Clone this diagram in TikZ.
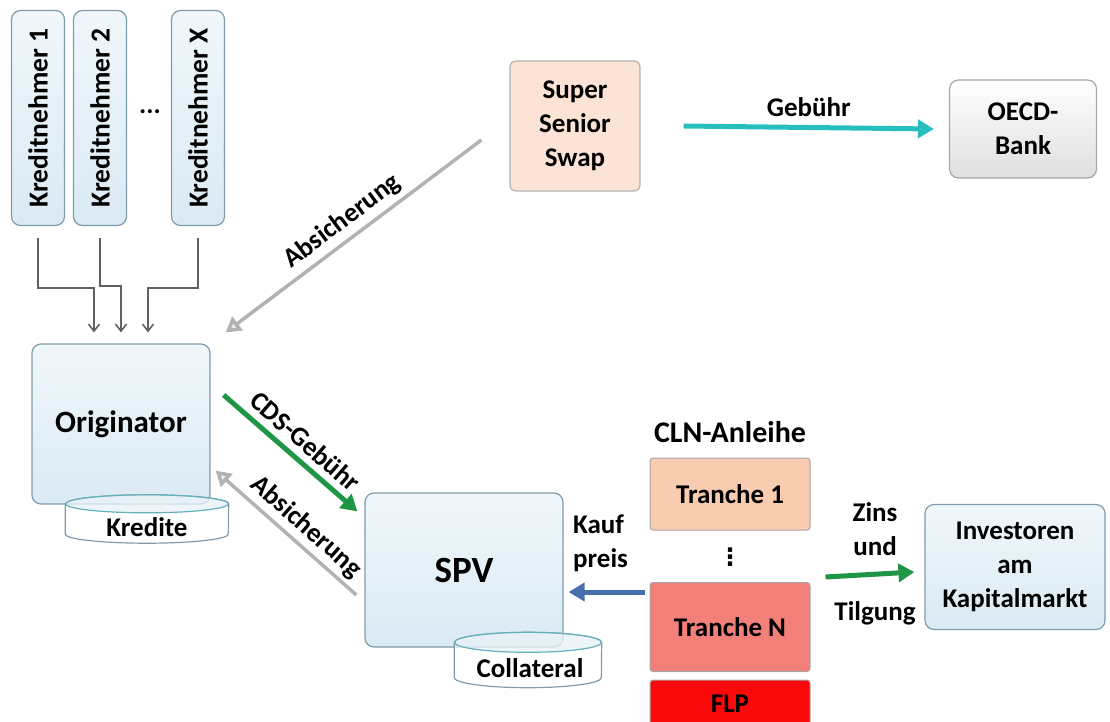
\documentclass[tikz,border=0pt]{standalone}
\usepackage{fontspec}
\setmainfont{Carlito}
\newfontfamily\symfont{DejaVu Sans}
\usetikzlibrary{arrows.meta, positioning, shapes.geometric}
\definecolor{boxtop}{RGB}{240,247,251}
\definecolor{boxbot}{RGB}{218,234,243}
\definecolor{boxline}{RGB}{128,156,172}
\definecolor{swapfill}{RGB}{251,228,213}
\definecolor{trone}{RGB}{248,204,176}
\definecolor{trn}{RGB}{243,128,120}
\definecolor{trflp}{RGB}{250,10,10}
\definecolor{feegreen}{RGB}{30,150,70}
\definecolor{feecyan}{RGB}{40,190,190}
\definecolor{payblue}{RGB}{70,110,170}
\tikzset{%
  txt/.style={font=\bfseries\fontsize{27}{34}\selectfont, align=center, inner sep=0pt},
  base/.style={txt, draw=boxline, line width=1.2pt, rounded corners=9pt},
  party/.style={base, top color=boxtop, bottom color=boxbot},
  lender/.style={party, rotate=90, minimum width=215pt, minimum height=53pt, font=\bfseries\fontsize{27.5}{30}\selectfont},
  swapbox/.style={base, fill=swapfill, draw=gray!60, rounded corners=6pt},
  bankbox/.style={base, top color=white, bottom color=gray!25, draw=gray!70},
  tranche/.style={txt, draw=black!35, line width=1pt, rounded corners=3pt, minimum width=160pt},
  disk/.style={inner sep=0pt},
  diskbody/.style={draw=boxline, line width=1.2pt, fill=white, fill opacity=0.6},
  disklid/.style={draw=boxline!80!cyan, line width=1.2pt, fill=boxbot, fill opacity=0.45},
  feed/.style={draw=gray!75!black, line width=1.6pt, -{Straight Barb[length=7pt,width=11pt]}},
  fee/.style={draw=feegreen, line width=5pt, -{Triangle[length=16pt,width=18pt]}},
  hedge/.style={draw=gray!60, line width=3.5pt, -{Triangle[length=15pt,width=17pt,fill=gray!15]}},
  swapfee/.style={draw=feecyan, line width=5pt, -{Triangle[length=16pt,width=18pt]}},
  pay/.style={draw=payblue, line width=5pt, -{Triangle[length=16pt,width=18pt]}},
  lbl/.style={txt, fill=none}
}
\begin{document}
\begin{tikzpicture}[x=1pt, y=-1pt]
  \useasboundingbox (0,0) rectangle (1110,722);

  \node[lender] (k1) at (38,118) {Kreditnehmer 1};
  \node[lender] (k2) at (100,118) {Kreditnehmer 2};
  \node[lender] (kx) at (198,118) {Kreditnehmer X};
  \node[txt] (kdots) at (150,112) {...};

  \node[party, minimum width=178pt, minimum height=160pt, font=\bfseries\fontsize{31}{36}\selectfont] (orig) at (121,424) {Originator};
  \node[disk, minimum width=163pt, minimum height=48pt] (kredite) at (147,519) {};
  \draw[diskbody] ([yshift=-9pt]kredite.north west) -- ([yshift=9pt]kredite.south west)
    arc[start angle=180, end angle=360, x radius=81.5pt, y radius=9pt]
    -- ([yshift=-9pt]kredite.north east)
    arc[start angle=0, end angle=180, x radius=81.5pt, y radius=9pt] -- cycle;
  \draw[disklid] ([yshift=-9pt]kredite.north) ellipse[x radius=81.5pt, y radius=9pt];
  \node[txt] (kreditetxt) at (147,527) {Kredite};

  \node[party, minimum width=198pt, minimum height=154pt, font=\bfseries\fontsize{37}{42}\selectfont] (spv) at (464,570) {SPV};
  \node[disk, minimum width=147pt, minimum height=55pt] (coll) at (528,660) {};
  \draw[diskbody] ([yshift=-10pt]coll.north west) -- ([yshift=10pt]coll.south west)
    arc[start angle=180, end angle=360, x radius=73.5pt, y radius=10pt]
    -- ([yshift=-10pt]coll.north east)
    arc[start angle=0, end angle=180, x radius=73.5pt, y radius=10pt] -- cycle;
  \draw[disklid] ([yshift=-10pt]coll.north) ellipse[x radius=73.5pt, y radius=10pt];
  \node[txt] (colltxt) at (530,668) {Collateral};

  \node[swapbox, minimum width=130pt, minimum height=130pt] (sss) at (575,126) {Super\\Senior\\Swap};
  \node[bankbox, minimum width=147pt, minimum height=98pt] (oecd) at (1023,129) {OECD-\\Bank};

  \node[txt, font=\bfseries\fontsize{30}{34}\selectfont] (cln) at (730,432) {CLN-Anleihe};
  \node[tranche, fill=trone, minimum height=72pt] (t1) at (730,494) {Tranche 1};
  \node[txt, font=\symfont\bfseries\fontsize{24}{28}\selectfont] (tdots) at (730,557) {⋮};
  \node[tranche, fill=trn, minimum height=89pt] (tn) at (730,627) {Tranche N};
  \node[tranche, fill=trflp, minimum height=48pt] (flp) at (730,704) {FLP};

  \node[party, minimum width=180pt, minimum height=125pt] (inv) at (1015,567) {Investoren\\am\\Kapitalmarkt};

  \node[txt, align=left, anchor=west] (kauf) at (573,543) {Kauf\\preis};
  \node[txt] (zins) at (875,529) {Zins\\und};
  \node[txt] (tilg) at (875,613) {Tilgung};

  \draw[feed] ([yshift=-12pt]k1.west) -- ++(0,50) -| ([xshift=-27pt,yshift=11pt]orig.north);
  \draw[feed] ([yshift=-12pt]k2.west) -- ++(0,48) -| ([yshift=11pt]orig.north);
  \draw[feed] ([yshift=-12pt]kx.west) -- ++(0,50) -| ([xshift=27pt,yshift=11pt]orig.north);

  \draw[hedge] ([xshift=-28pt,yshift=-14pt]sss.west) -- node[lbl, above=5pt, sloped] {Absicherung} ([xshift=15pt,yshift=11pt]orig.north east);
  \draw[fee] ([xshift=13pt,yshift=29pt]orig.east) -- node[lbl, above=7pt, sloped, pos=0.52] {CDS-Gebühr} ([xshift=-7pt,yshift=-19pt]spv.north west);
  \draw[hedge] ([xshift=-8pt,yshift=-25pt]spv.west) -- node[lbl, above=4pt, sloped, pos=0.44] {Absicherung} ([xshift=5pt,yshift=34pt]orig.south east);
  \draw[swapfee] ([xshift=43pt]sss.east) -- node[lbl, above=8pt] {Gebühr} ([xshift=-15pt]oecd.west);
  \draw[pay] ([xshift=-5pt,yshift=35pt]tn.west) -- ([xshift=5pt,yshift=-22pt]spv.east);
  \draw[fee] ([xshift=15pt,yshift=50pt]tn.east) -- ([xshift=-10pt,yshift=-5pt]inv.west);
\end{tikzpicture}
\end{document}
